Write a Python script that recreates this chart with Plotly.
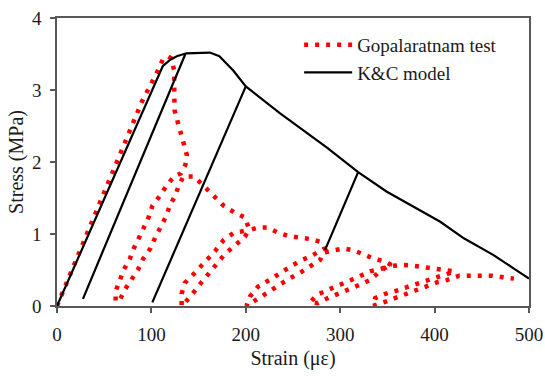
import plotly.graph_objects as go

# Gopalaratnam cyclic test (strain in microstrain, stress in MPa)
test_strain = [0, 30, 60, 90, 105, 112, 117, 121, 124, 123.8, 124.5, 128, 134, 137.5, 136, 131,
               124, 116, 109, 101, 97, 92, 86.6, 81.3, 77, 71, 66, 62.5, 62,
               66, 72, 79, 86, 91, 99, 104, 110, 115, 119.5, 125, 129, 134,
               145, 156.6, 166.3, 176.8, 187.7, 199, 202.6,
               200.8, 186.6, 176.8, 167.2, 157.7, 146, 135.4, 132, 132,
               142, 150.6, 160, 168.3, 177.8, 188.4, 199, 203, 213, 222.5, 234, 246, 257.4, 268, 279.4, 283.5,
               268.7, 258, 247.5, 236.3, 225, 213, 204.3, 200.8,
               211.4, 222.7, 234.4, 246, 257.4, 268, 278.7, 282, 292, 303.4, 314.7, 326, 337, 347.5, 354,
               344, 331.6, 320, 309, 299, 287, 276, 268,
               276, 287, 299, 310, 320, 331.6, 342, 350, 365, 377, 388, 400, 410.5, 421,
               412, 402, 392, 381, 370, 359, 348, 337, 334.5,
               346, 356, 369, 379, 391, 403, 413, 420, 426, 437.7, 449, 460.7, 472.4, 484]
test_stress = [0, 0.95, 1.93, 2.84, 3.22, 3.42, 3.47, 3.44, 3.28, 3.0, 2.72, 2.55, 2.27, 2.1, 1.96, 1.84,
               1.80, 1.67, 1.53, 1.39, 1.23, 1.08, 0.94, 0.80, 0.65, 0.51, 0.36, 0.22, 0.07,
               0.07, 0.23, 0.37, 0.51, 0.65, 0.80, 0.95, 1.10, 1.23, 1.39, 1.53, 1.67, 1.80,
               1.80, 1.65, 1.52, 1.39, 1.30, 1.23, 1.10,
               1.05, 1.01, 0.92, 0.76, 0.62, 0.46, 0.32, 0.17, 0.0,
               0.14, 0.29, 0.43, 0.57, 0.72, 0.85, 0.96, 1.05, 1.09, 1.09, 1.02, 0.97, 0.95, 0.93, 0.89, 0.80,
               0.69, 0.63, 0.55, 0.45, 0.36, 0.27, 0.13, 0.0,
               0.09, 0.18, 0.27, 0.38, 0.46, 0.55, 0.64, 0.74, 0.77, 0.80, 0.77, 0.71, 0.65, 0.62, 0.57,
               0.52, 0.48, 0.41, 0.35, 0.29, 0.23, 0.16, 0.05,
               0.04, 0.11, 0.17, 0.23, 0.29, 0.36, 0.48, 0.55, 0.57, 0.56, 0.54, 0.52, 0.50, 0.48,
               0.44, 0.40, 0.35, 0.31, 0.26, 0.21, 0.17, 0.11, 0.0,
               0.05, 0.10, 0.16, 0.22, 0.27, 0.33, 0.36, 0.40, 0.42, 0.42, 0.42, 0.42, 0.40, 0.38]

# K&C model: envelope plus unloading branches (None separates segments)
model_strain = [0, 112, 120, 127, 137, 150, 162, 172, 186.7, 200, 236, 286, 319, 349, 378, 406, 431, 462, 484, 500, None,
                136, 27.5, None,
                200, 101, None,
                319, 284]
model_stress = [0, 3.33, 3.42, 3.47, 3.51, 3.52, 3.52, 3.47, 3.27, 3.05, 2.68, 2.20, 1.86, 1.59, 1.38, 1.17, 0.94, 0.71, 0.52, 0.38, None,
                3.50, 0.10, None,
                3.05, 0.05, None,
                1.86, 0.78]

x_ticks = [0, 100, 200, 300, 400, 500]
y_ticks = [0, 1, 2, 3, 4]

FONT = "Liberation Serif, Times New Roman, serif"

fig = go.Figure()
fig.add_trace(go.Scatter(x=test_strain, y=test_stress, mode="lines", name="Gopalaratnam test",
                         line=dict(color="#ff0000", width=4.5, dash="4px,7px")))
fig.add_trace(go.Scatter(x=model_strain, y=model_stress, mode="lines", name="K&C model",
                         line=dict(color="#000000", width=2.2), connectgaps=False))

axis_common = dict(showline=True, mirror=True, linecolor="#595959", linewidth=1.5,
                   ticks="outside", ticklen=5, tickcolor="#595959", tickwidth=1.5,
                   showgrid=False, zeroline=False, automargin=False,
                   tickfont=dict(family=FONT, size=19, color="#1a1a1a"))

fig.update_xaxes(range=[0, 500], tickvals=x_ticks, ticktext=[str(v) for v in x_ticks],
                 ticklabelstandoff=5,
                 title=dict(text="Strain (με)", standoff=7,
                            font=dict(family=FONT, size=20, color="#1a1a1a")),
                 **axis_common)
fig.update_yaxes(range=[0, 4], tickvals=y_ticks, ticktext=[str(v) for v in y_ticks],
                 ticklabelstandoff=5,
                 title=dict(text="Stress (MPa)", standoff=3,
                            font=dict(family=FONT, size=20, color="#1a1a1a")),
                 **axis_common)

fig.update_layout(
    width=545, height=381,
    margin=dict(l=57, r=16, t=18, b=75),
    paper_bgcolor="white", plot_bgcolor="white",
    showlegend=True,
    legend=dict(x=0.513, y=0.973, xanchor="left", yanchor="top",
                font=dict(family=FONT, size=19, color="#1a1a1a"),
                bgcolor="rgba(0,0,0,0)", itemwidth=48, tracegroupgap=0),
)

fig.write_html("out.html")
